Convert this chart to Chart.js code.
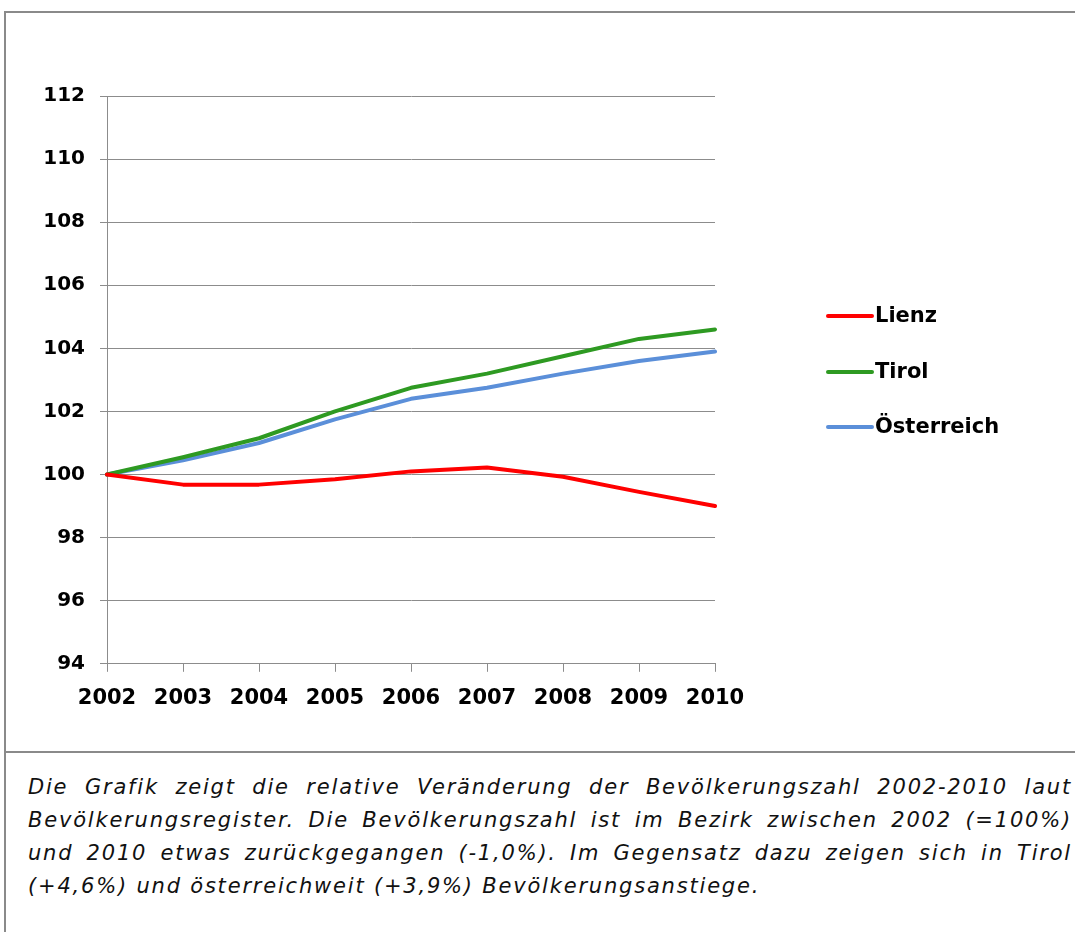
<!DOCTYPE html>
<html>
<head>
<meta charset="utf-8">
<script src="https://cdn.jsdelivr.net/npm/chart.js@4/dist/chart.umd.min.js"></script>
<style>
  body { margin: 0; background: #fff; width: 1075px; height: 932px; overflow: hidden; position: relative; }
  #rahmen { position: absolute; left: 4px; top: 11px; width: 1200px; height: 1000px;
            border-left: 2px solid #8a8a8a; border-top: 2px solid #8a8a8a; }
  #trenner { position: absolute; left: 4px; top: 751px; width: 1200px; height: 2px; background: #8a8a8a; }
  #wrap { position: absolute; left: 0; top: 0; width: 1075px; height: 752px; }
  #text { position: absolute; left: 28px; top: 771px; width: 1044px;
          font: italic 21px "DejaVu Sans", Verdana, sans-serif; line-height: 33px;
          letter-spacing: 1.8px; text-align: justify; color: #111; margin: 0; }
</style>
</head>
<body>
<div id="rahmen"></div>
<div id="trenner"></div>
<div id="wrap"><canvas id="linienChart" width="1075" height="752"></canvas></div>
<p id="text">Die Grafik zeigt die relative Veränderung der Bevölkerungszahl 2002-2010 laut Bevölkerungsregister. Die Bevölkerungszahl ist im Bezirk zwischen 2002 (=100%) und 2010 etwas zurückgegangen (-1,0%). Im Gegensatz dazu zeigen sich in Tirol (+4,6%) und österreichweit (+3,9%) Bevölkerungsanstiege.</p>

<script>
// daten
const jahre = ["2002", "2003", "2004", "2005", "2006", "2007", "2008", "2009", "2010"];
const lienz = [100, 99.68, 99.68, 99.85, 100.1, 100.22, 99.93, 99.45, 99.0];
const tirol = [100, 100.55, 101.15, 102.0, 102.75, 103.2, 103.75, 104.3, 104.6];
const oesterreich = [100, 100.45, 101.0, 101.75, 102.4, 102.75, 103.2, 103.6, 103.9];
const yTicks = [94, 96, 98, 100, 102, 104, 106, 108, 110, 112];

const grau = '#8c8c8c';
const schrift = '"DejaVu Sans", Verdana, sans-serif';

// legende rechts selber zeichnen
const legendePlugin = {
  id: 'legende',
  afterDraw(chart) {
    const c = chart.ctx;
    const ys = [316, 372, 427];
    c.save();
    chart.data.datasets.forEach((ds, i) => {
      c.strokeStyle = ds.borderColor;
      c.lineWidth = 4;
      c.lineCap = 'round';
      c.beginPath();
      c.moveTo(828, ys[i]);
      c.lineTo(872, ys[i]);
      c.stroke();
      c.fillStyle = '#000';
      c.font = 'bold 21px ' + schrift;
      c.textBaseline = 'middle';
      c.fillText(ds.label, 875, ys[i] + 1);
    });
    c.restore();
  }
};

const ctx = document.getElementById('linienChart');

new Chart(ctx, {
  type: 'line',
  data: {
    labels: jahre,
    datasets: [
      { label: 'Lienz', data: lienz, borderColor: '#ff0000' },
      { label: 'Tirol', data: tirol, borderColor: '#2e9a22' },
      { label: 'Österreich', data: oesterreich, borderColor: '#5b8fd9' }
    ]
  },
  options: {
    responsive: false,
    animation: false,
    devicePixelRatio: 1,
    elements: {
      line: { borderWidth: 4, tension: 0, borderCapStyle: 'round', borderJoinStyle: 'round' },
      point: { radius: 0 }
    },
    layout: { padding: { top: 96, left: 0, right: 360, bottom: 27 } },
    plugins: { legend: { display: false }, tooltip: { enabled: false } },
    scales: {
      x: {
        offset: false,
        grid: { drawOnChartArea: false, drawTicks: true, tickLength: 8, color: grau },
        border: { color: grau, width: 1 },
        ticks: { color: '#000', padding: 14, maxRotation: 0, font: { family: schrift, size: 21, weight: 'bold' } }
      },
      y: {
        min: 94,
        max: 112,
        afterFit(scale) { scale.width = 107; },
        afterBuildTicks(scale) { scale.ticks = yTicks.map(v => ({ value: v })); },
        grid: { color: grau, tickLength: 7 },
        border: { color: grau, width: 1 },
        ticks: { color: '#000', padding: 15, font: { family: schrift, size: 20, weight: 'bold' } }
      }
    }
  },
  plugins: [legendePlugin]
});
</script>
</body>
</html>
